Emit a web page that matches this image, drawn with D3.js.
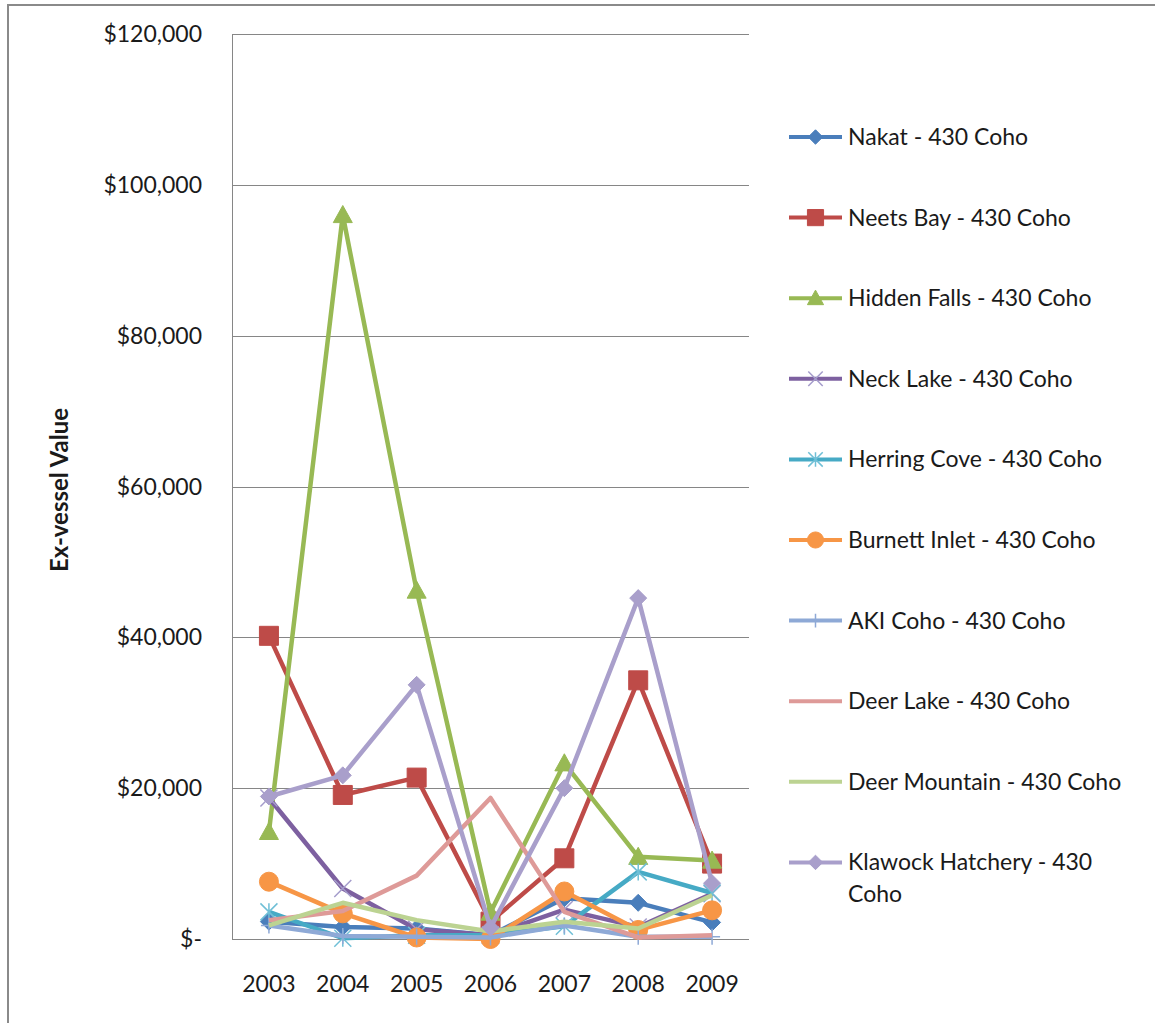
<!DOCTYPE html>
<html>
<head>
<meta charset="utf-8">
<script src="https://cdn.jsdelivr.net/npm/d3@7"></script>
<style>
  html, body { margin: 0; padding: 0; background: #fff; }
  svg { display: block; }
  text { font-family: Lato, "Open Sans", sans-serif; fill: #1a1a1a; }
</style>
</head>
<body>
<svg id="chart" width="1155" height="1023"></svg>
<script>
// ---- data ----
const years = ["2003", "2004", "2005", "2006", "2007", "2008", "2009"];
const yTicks = [0, 20000, 40000, 60000, 80000, 100000, 120000];

const nakat        = [2300, 1600, 1400, 500, 5400, 4800, 2200];
const neetsBay     = [40200, 19100, 21400, 2300, 10700, 34300, 10000];
const hiddenFalls  = [14200, 96000, 46200, 3500, 23300, 10900, 10400];
const neckLake     = [18700, 6700, 1300, 500, 3900, 1600, 6000];
const herringCove  = [3600, 100, 500, 500, 1700, 8900, 6100];
const burnettInlet = [7600, 3400, 200, 0, 6300, 1200, 3800];
const akiCoho      = [1800, 400, 300, 200, 1800, 300, 300];
const deerLake     = [2500, 3700, 8400, 18700, 3600, 200, 500];
const deerMountain = [1800, 4800, 2500, 1000, 2300, 1400, 5800];
const klawock      = [18900, 21700, 33700, 1500, 20000, 45200, 7400];

const seriesNames = [
  "Nakat - 430 Coho", "Neets Bay - 430 Coho", "Hidden Falls - 430 Coho",
  "Neck Lake - 430 Coho", "Herring Cove - 430 Coho", "Burnett Inlet - 430 Coho",
  "AKI Coho - 430 Coho", "Deer Lake - 430 Coho", "Deer Mountain - 430 Coho",
  "Klawock Hatchery - 430 Coho"
];
const seriesValues = [nakat, neetsBay, hiddenFalls, neckLake, herringCove,
  burnettInlet, akiCoho, deerLake, deerMountain, klawock];
const seriesColors = ["#4A7EBB", "#BE4B48", "#98B954", "#7D60A0", "#46AAC5",
  "#F79646", "#8EA9D6", "#DE9A98", "#BCD392", "#A99FCB"];
const markerColors = ["#4A7EBB", "#BE4B48", "#98B954", "#A49CCB", "#6FBFD6",
  "#F79646", "#8EA9D6", null, null, "#A99FCB"];
const markerTypes = ["diamond", "square", "triangle", "x", "asterisk",
  "circle", "plus", "none", "none", "diamond"];

// ---- layout ----
const svg = d3.select("#chart");
const plot = { left: 232, right: 749, top: 34, bottom: 939 };

const x = d3.scalePoint().domain(years).range([plot.left, plot.right]).padding(0.5);
const y = d3.scaleLinear().domain([0, 120000]).range([plot.bottom, plot.top]);

// outer chart border
svg.append("rect")
  .attr("x", 8).attr("y", 5).attr("width", 1300).attr("height", 1200)
  .attr("fill", "none").attr("stroke", "#8a8a8a").attr("stroke-width", 2);

// gridlines
svg.append("g")
  .selectAll("line").data(yTicks.filter(d => d > 0)).join("line")
  .attr("x1", plot.left).attr("x2", plot.right)
  .attr("y1", d => Math.round(y(d)) + 0.5).attr("y2", d => Math.round(y(d)) + 0.5)
  .attr("stroke", "#868686").attr("stroke-width", 1);

// axes lines
svg.append("line")
  .attr("x1", plot.left + 0.5).attr("x2", plot.left + 0.5)
  .attr("y1", plot.top).attr("y2", plot.bottom)
  .attr("stroke", "#868686");
svg.append("line")
  .attr("x1", plot.left).attr("x2", plot.right)
  .attr("y1", plot.bottom + 0.5).attr("y2", plot.bottom + 0.5)
  .attr("stroke", "#868686");

// y tick labels
const fmt = d3.format("$,");
svg.append("g")
  .selectAll("text").data(yTicks).join("text")
  .attr("x", 202).attr("y", d => y(d))
  .attr("dy", "0.35em")
  .attr("text-anchor", "end")
  .style("font-size", "23px")
  .text(d => d === 0 ? "$-" : fmt(d));

// x tick labels
svg.append("g")
  .selectAll("text").data(years).join("text")
  .attr("x", d => x(d)).attr("y", 984)
  .attr("dy", "0.35em")
  .attr("text-anchor", "middle")
  .style("font-size", "23px")
  .text(d => d);

// y axis title
svg.append("text")
  .attr("transform", "translate(68,490) rotate(-90)")
  .attr("text-anchor", "middle")
  .style("font-size", "24px").style("font-weight", "bold")
  .text("Ex-vessel Value");

// ---- marker shapes ----
function markerPath(type, s) {
  const h = s / 2;
  switch (type) {
    case "diamond": return `M0,${-h}L${h},0L0,${h}L${-h},0Z`;
    case "square": return `M${-h},${-h}H${h}V${h}H${-h}Z`;
    case "triangle": return `M0,${-h}L${h},${h * 0.8}L${-h},${h * 0.8}Z`;
    case "x": return `M${-h},${-h}L${h},${h}M${-h},${h}L${h},${-h}`;
    case "asterisk": return `M${-h},${-h}L${h},${h}M${-h},${h}L${h},${-h}M0,${-h}V${h}`;
    case "plus": return `M${-h},0H${h}M0,${-h}V${h}`;
    default: return "";
  }
}
const filledTypes = new Set(["diamond", "square", "triangle", "circle"]);
const markerSize = { diamond: 17, square: 19, triangle: 19, x: 17, asterisk: 17, circle: 19, plus: 16 };

function drawMarker(g, type, color, cx, cy, scale) {
  if (type === "none") return;
  const s = markerSize[type] * scale;
  if (type === "circle") {
    g.append("circle").attr("cx", cx).attr("cy", cy).attr("r", s / 2)
      .attr("fill", color).attr("stroke", color).attr("stroke-width", 1);
  } else if (filledTypes.has(type)) {
    g.append("path").attr("d", markerPath(type, s))
      .attr("transform", `translate(${cx},${cy})`)
      .attr("fill", color).attr("stroke", color).attr("stroke-width", 1);
  } else {
    g.append("path").attr("d", markerPath(type, s))
      .attr("transform", `translate(${cx},${cy})`)
      .attr("fill", "none").attr("stroke", color).attr("stroke-width", 1.5);
  }
}

// ---- series ----
const line = d3.line().x((d, i) => x(years[i])).y(d => y(d));
const seriesG = svg.append("g");
seriesValues.forEach((vals, si) => {
  const g = seriesG.append("g");
  g.append("path").datum(vals)
    .attr("d", line)
    .attr("fill", "none")
    .attr("stroke", seriesColors[si])
    .attr("stroke-width", 4.5)
    .attr("stroke-linejoin", "round");
  vals.forEach((v, i) => drawMarker(g, markerTypes[si], markerColors[si], x(years[i]), y(v), 1));
});

// ---- legend ----
const legendTop = 137, legendStep = 80.6;
const lg = svg.append("g");
seriesNames.forEach((name, si) => {
  const cy = legendTop + si * legendStep;
  lg.append("line")
    .attr("x1", 789).attr("x2", 842).attr("y1", cy).attr("y2", cy)
    .attr("stroke", seriesColors[si]).attr("stroke-width", 4);
  drawMarker(lg, markerTypes[si], markerColors[si], 815.5, cy, 0.85);
  if (name.startsWith("Klawock")) {
    const t = lg.append("text").attr("x", 848).attr("y", cy).attr("dy", "0.35em")
      .style("font-size", "23px");
    t.append("tspan").attr("x", 848).text("Klawock Hatchery - 430");
    t.append("tspan").attr("x", 848).attr("dy", "1.37em").text("Coho");
  } else {
    lg.append("text").attr("x", 848).attr("y", cy).attr("dy", "0.35em")
      .style("font-size", "23px").text(name);
  }
});
</script>
</body>
</html>
